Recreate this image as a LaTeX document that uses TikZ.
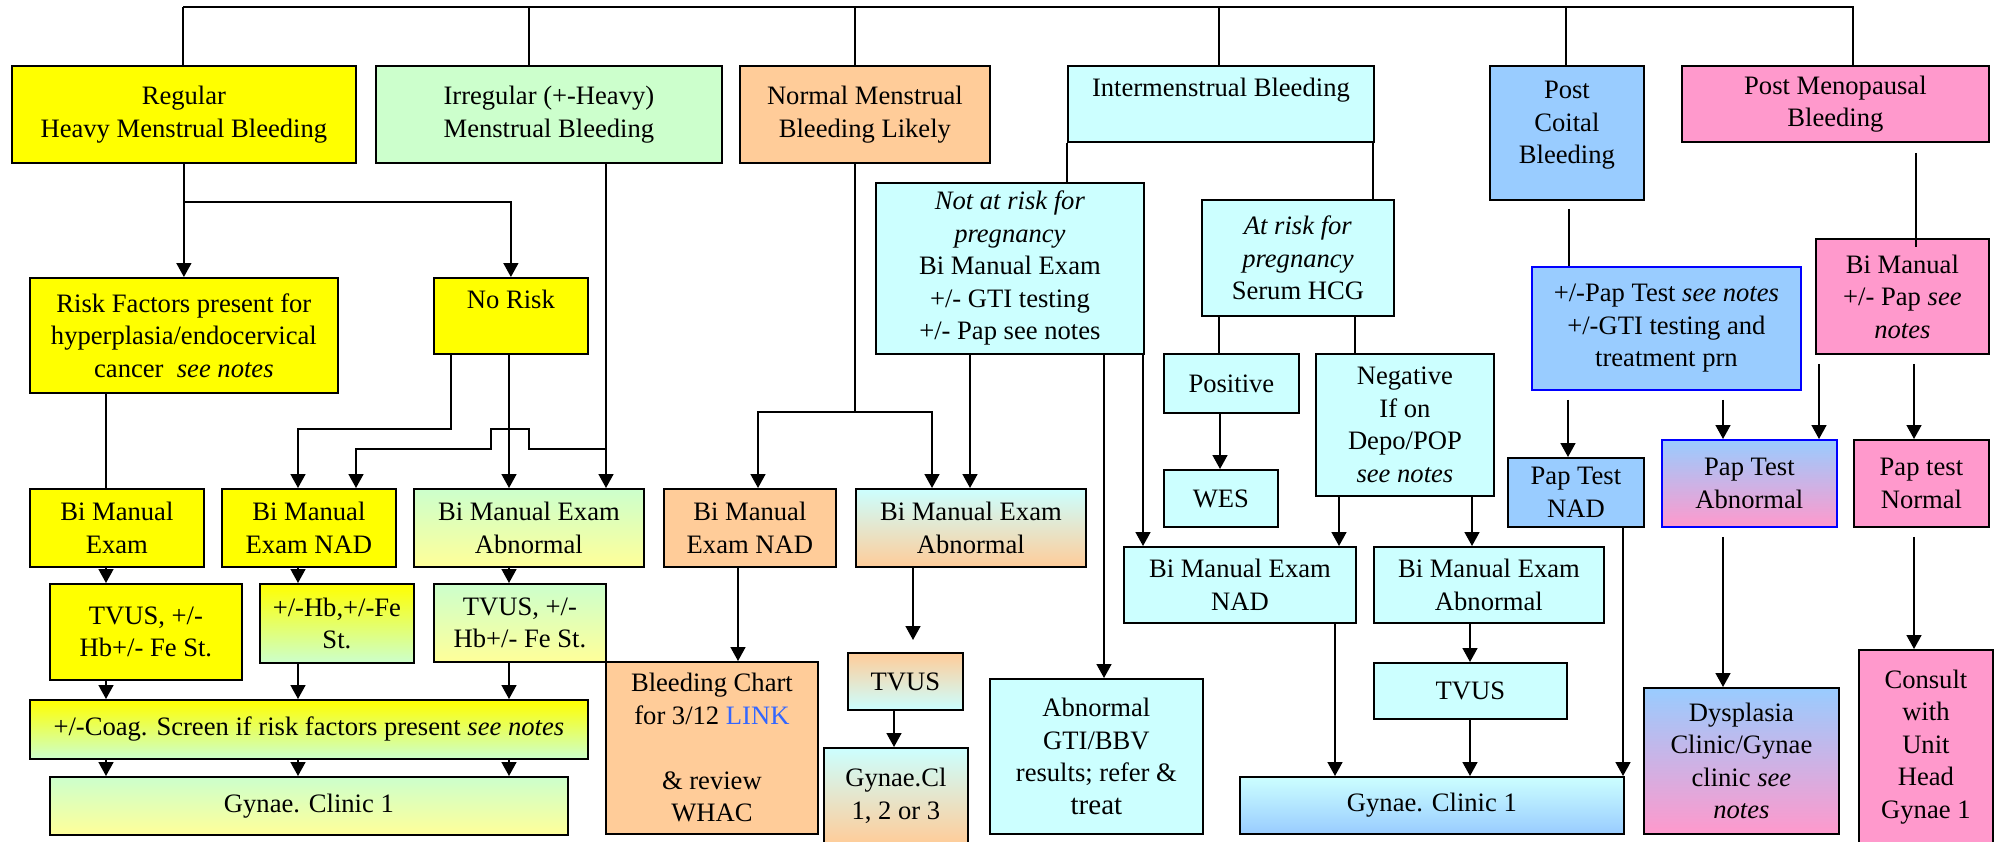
\documentclass[tikz,border=0pt]{standalone}
\usepackage{fontspec}
\setmainfont{Liberation Serif}
\usetikzlibrary{arrows.meta}
\definecolor{yel}{HTML}{FFFF00}
\definecolor{lyel}{HTML}{FFFF99}
\definecolor{grn}{HTML}{CCFFCC}
\definecolor{org}{HTML}{FFCC99}
\definecolor{cyn}{HTML}{CCFFFF}
\definecolor{blu}{HTML}{99CCFF}
\definecolor{pnk}{HTML}{FF99CC}
\definecolor{lnk}{HTML}{3366FF}
\begin{document}
\begin{tikzpicture}[x=1pt,y=-1pt,
  blk/.style={draw,line width=1.8pt,anchor=north west,align=center,inner sep=2pt,font=\fontsize{26.6}{32.5}\selectfont},
  sz/.style 2 args={minimum width=#1pt,minimum height=#2pt},
  bdr/.style={draw=blue},
  arr/.style={line width=1.6pt,-{Triangle[width=15pt,length=14pt]}},
  ln/.style={line width=1.6pt}]
\useasboundingbox (0,0) rectangle (1997,841);
% top row
\node[blk,sz={344}{97},fill=yel] (reg) at (11,65) {Regular\\Heavy Menstrual Bleeding};
\node[blk,sz={346}{97},fill=grn] (irr) at (375,65) {Irregular (+-Heavy)\\Menstrual Bleeding};
\node[blk,sz={250}{97},fill=org] (nml) at (739,65) {Normal Menstrual\\Bleeding Likely};
\node[blk,sz={306}{76},fill=cyn] (imb) at (1067,65) {Intermenstrual Bleeding\\~};
\node[blk,sz={154}{134},fill=blu] (pcb) at (1489,65) {Post\\Coital\\Bleeding\\[-12pt]~};
\node[blk,sz={307}{76},fill=pnk] (pmb) at (1681,65) {Post Menopausal\\Bleeding};
% second level
\node[blk,sz={308}{115},fill=yel] (rsk) at (29,277) {Risk Factors present for\\hyperplasia/endocervical\\cancer\ \ \textit{see notes}};
\node[blk,sz={154}{76},fill=yel] (nor) at (433,277) {No Risk\\~};
\node[blk,sz={268}{171},fill=cyn] (nar) at (875,182) {\textit{Not at risk for}\\\textit{pregnancy}\\Bi Manual Exam\\+/- GTI testing\\+/- Pap see notes};
\node[blk,sz={192}{116},fill=cyn] (atr) at (1201,199) {\textit{At risk for}\\\textit{pregnancy}\\Serum HCG};
\node[blk,sz={135}{59},fill=cyn] (pos) at (1163,353) {Positive};
\node[blk,sz={178}{142},fill=cyn] (neg) at (1315,353) {Negative\\If on\\Depo/POP\\\textit{see notes}};
\node[blk,sz={269}{123},fill=blu,bdr] (ppt) at (1531,266) {+/-Pap Test \textit{see notes}\\+/-GTI testing and\\treatment prn};
\node[blk,sz={173}{115},fill=pnk] (pbm) at (1815,238) {Bi Manual\\+/- Pap \textit{see}\\\textit{notes}};
% exams
\node[blk,sz={174}{78},fill=yel] (bme) at (29,488) {Bi Manual\\Exam};
\node[blk,sz={174}{78},fill=yel] (bmn1) at (221,488) {Bi Manual\\Exam NAD};
\node[blk,sz={230}{78},top color=grn,bottom color=lyel] (bma1) at (413,488) {Bi Manual Exam\\Abnormal};
\node[blk,sz={172}{78},fill=org] (bmn2) at (663,488) {Bi Manual\\Exam NAD};
\node[blk,sz={230}{78},top color=cyn,bottom color=org] (bma2) at (855,488) {Bi Manual Exam\\Abnormal};
\node[blk,sz={114}{57},fill=cyn] (wes) at (1163,469) {WES};
\node[blk,sz={232}{76},fill=cyn] (bmn3) at (1123,546) {Bi Manual Exam\\NAD};
\node[blk,sz={230}{76},fill=cyn] (bma3) at (1373,546) {Bi Manual Exam\\Abnormal};
\node[blk,sz={136}{69},fill=blu] (ptn) at (1507,457) {Pap Test\\NAD};
\node[blk,sz={175}{87},top color=blu,bottom color=pnk,bdr] (pta) at (1661,439) {Pap Test\\Abnormal};
\node[blk,sz={135}{87},fill=pnk] (ptm) at (1853,439) {Pap test\\Normal};
% tests and clinics
\node[blk,sz={192}{96},fill=yel] (tv1) at (49,583) {TVUS, +/-\\Hb+/- Fe St.};
\node[blk,sz={154}{79},top color=yel,bottom color=grn] (hbf) at (259,583) {+/-Hb,+/-Fe\\St.};
\node[blk,sz={172}{78},top color=grn,bottom color=lyel] (tv2) at (433,583) {TVUS, +/-\\Hb+/- Fe St.};
\node[blk,sz={558}{59},top color=yel,bottom color=grn] (coag) at (29,699) {+/-Coag. Screen if risk factors present \textit{see notes}};
\node[blk,sz={518}{58},top color=grn,bottom color=lyel] (gc1) at (49,776) {Gynae. Clinic 1};
\node[blk,sz={212}{172},fill=org] (bch) at (605,661) {Bleeding Chart\\for 3/12 \textcolor{lnk}{LINK}\\~\\\& review\\WHAC};
\node[blk,sz={115}{57},top color=org,bottom color=cyn] (tv3) at (847,652) {TVUS};
\node[blk,sz={144}{96},top color=cyn,bottom color=org] (gcl) at (823,747) {Gynae.Cl\\1, 2 or 3};
\node[blk,sz={213}{155},fill=cyn] (abg) at (989,678) {Abnormal\\GTI/BBV\\results; refer \&\\{\fontsize{29}{32}\selectfont treat}};
\node[blk,sz={193}{56},fill=cyn] (tv4) at (1373,662) {TVUS};
\node[blk,sz={384}{57},top color=cyn,bottom color=blu] (gc2) at (1239,776) {Gynae. Clinic 1};
\node[blk,sz={195}{146},top color=blu,bottom color=pnk] (dys) at (1643,687) {Dysplasia\\Clinic/Gynae\\clinic \textit{see}\\\textit{notes}};
\node[blk,sz={134}{194},fill=pnk] (con) at (1858,649) {Consult\\with\\Unit\\Head\\Gynae 1};
% top bar
\coordinate (root) at (183,7);
\draw[ln] (root) -- (1853,7) -- (1853,0 |- pmb.north);
\foreach \n/\x in {reg/183,irr/529,nml/855,imb/1219,pcb/1566}
  \draw[ln] (\x,7) -- (\x,0 |- \n.north);
% branches
\draw[arr] (reg.south) -- (rsk.north);
\draw[arr] (reg.south) -- ++(0,38) -| (nor.north);
\draw[arr] (451,0 |- nor.south) |- (298,429) -- (298,0 |- bmn1.north);
\draw[arr] (606,449) -- (529,449) -- (529,429) -- (491,429) -- (491,449) -| (356,0 |- bmn1.north);
\draw[arr] (855,0 |- nml.south) |- (758,412) -- (758,0 |- bmn2.north);
\draw[arr] (855,412) -| (932,0 |- bma2.north);
% plain lines
\foreach \a/\b/\x in {rsk/bme/106,atr/pos/1219,atr/neg/1355,imb/nar/1067,imb/atr/1373}
  \draw[ln] (\x,0 |- \a.south) -- (\x,0 |- \b.north);
\draw[ln,shorten <=8pt] (1569,0 |- pcb.south) -- (1569,0 |- ppt.north);
\draw[ln,shorten <=10pt,shorten >=-9pt] (1916,0 |- pmb.south) -- (1916,0 |- pbm.north);
% arrows
\foreach \a/\b/\x in {bme/tv1/106,bmn1/hbf/298,bma1/tv2/509,tv1/coag/106,hbf/coag/298,tv2/coag/509,
    coag/gc1/106,coag/gc1/298,coag/gc1/509,bmn2/bch/738,tv3/gcl/894,nar/bma2/970,nar/abg/1104,
    nar/bmn3/1143,pos/wes/1220,neg/bmn3/1339,neg/bma3/1472,bma3/tv4/1470,tv4/gc2/1470,
    bmn3/gc2/1335,ptn/gc2/1623,nor/bma1/509,irr/bma1/606}
  \draw[arr] (\x,0 |- \a.south) -- (\x,0 |- \b.north);
\foreach \a/\b/\x in {ppt/ptn/1568,ppt/pta/1723,pbm/pta/1819,pbm/ptm/1914,pta/dys/1723,ptm/con/1914}
  \draw[arr,shorten <=9pt] (\x,0 |- \a.south) -- (\x,0 |- \b.north);
\draw[arr,shorten >=12pt] (913,0 |- bma2.south) -- (913,0 |- tv3.north);
\end{tikzpicture}
\end{document}
